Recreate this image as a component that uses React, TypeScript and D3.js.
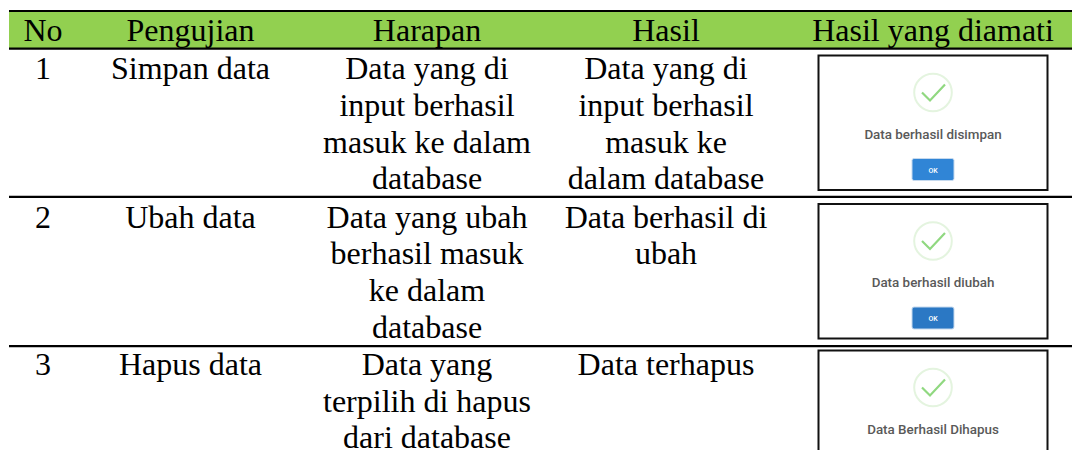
import React from 'react';
import * as d3 from 'd3';

const columns = ['No', 'Pengujian', 'Harapan', 'Hasil', 'Hasil yang diamati'];
const numbers = ['1', '2', '3'];
const tests = ['Simpan data', 'Ubah data', 'Hapus data'];
const expected = [
  ['Data yang di', 'input berhasil', 'masuk ke dalam', 'database'],
  ['Data yang ubah', 'berhasil masuk', 'ke dalam', 'database'],
  ['Data yang', 'terpilih di hapus', 'dari database'],
];
const results = [
  ['Data yang di', 'input berhasil', 'masuk ke', 'dalam database'],
  ['Data berhasil di', 'ubah'],
  ['Data terhapus'],
];
const dialogMessages = ['Data berhasil disimpan', 'Data berhasil diubah', 'Data Berhasil Dihapus'];

const width = 1072;
const height = 450;
const serif = '"Liberation Serif", "Times New Roman", serif';
const fontSize = 32;

// column centres
const colX = d3.scaleOrdinal<string, number>().domain(columns).range([43, 190.5, 427, 666, 933]);
// header top, header bottom, then each row's bottom
const ruleY = [11, 48.7, 196.9, 346.2];
// first-line baseline of each row
const rowBaseline = [79.3, 227.7, 375];
const lineY = d3.scaleLinear().domain([0, 1]).range([0, 36.7]);

function Cell({ x, top, lines }: { x: number; top: number; lines: string[] }) {
  return (
    <text x={x} textAnchor="middle" fontFamily={serif} fontSize={fontSize} fill="#000">
      {lines.map((l, i) => (
        <tspan key={i} x={x} y={top + lineY(i)}>
          {l}
        </tspan>
      ))}
    </text>
  );
}

function Dialog({ top, message, index }: { top: number; message: string; index: number }) {
  const left = 818.5;
  const cx = 933;
  const w = 229;
  const h = index === 2 ? 150 : 134.5;
  const cy = top + 37;
  const check = d3.line()([
    [cx - 11, cy + 0],
    [cx - 3, cy + 8],
    [cx + 12, cy - 8],
  ]);
  return (
    <g>
      <rect x={left} y={top} width={w} height={h} fill="#fff" stroke="#111" strokeWidth={2} />
      <circle cx={cx} cy={cy} r={18.8} fill="#fff" stroke="#e4f4df" strokeWidth={2} />
      <path d={check ?? ''} fill="none" stroke="#90d880" strokeWidth={2.2} />
      <text
        x={cx}
        y={top + 83}
        textAnchor="middle"
        fontFamily="Roboto, sans-serif"
        fontWeight={500}
        fontSize={13.4}
        fill="#595959"
      >
        {message}
      </text>
      {index < 2 && (
        <g>
          <rect x={cx - 21} y={top + 103} width={42} height={22} rx={2} fill={index === 0 ? '#3085d6' : '#2b78c4'} stroke="#c5d9ee" strokeWidth={1} />
          <text x={cx} y={top + 117} textAnchor="middle" fontFamily="Roboto, sans-serif" fontWeight={500} fontSize={7} fill="#fff">
            OK
          </text>
        </g>
      )}
    </g>
  );
}

export default function App() {
  const dialogTops = [55.5, 204, 350.5];
  return (
    <svg width={width} height={height} style={{ position: 'absolute', left: 0, top: 0, background: '#fff' }}>
      <rect x={9} y={ruleY[0]} width={width - 9} height={ruleY[1] - ruleY[0]} fill="#92d050" />
      {ruleY.map((y, i) => (
        <line key={i} x1={9} x2={width} y1={y} y2={y} stroke="#000" strokeWidth={2.2} />
      ))}
      {columns.map((c) => (
        <text key={c} x={colX(c)} y={41} textAnchor="middle" fontFamily={serif} fontSize={fontSize} fill="#000">
          {c}
        </text>
      ))}
      {numbers.map((n, i) => {
        const top = rowBaseline[i];
        return (
          <g key={n}>
            <Cell x={colX(columns[0])} top={top} lines={[n]} />
            <Cell x={colX(columns[1])} top={top} lines={[tests[i]]} />
            <Cell x={colX(columns[2])} top={top} lines={expected[i]} />
            <Cell x={colX(columns[3])} top={top} lines={results[i]} />
            <Dialog top={dialogTops[i]} message={dialogMessages[i]} index={i} />
          </g>
        );
      })}
    </svg>
  );
}
